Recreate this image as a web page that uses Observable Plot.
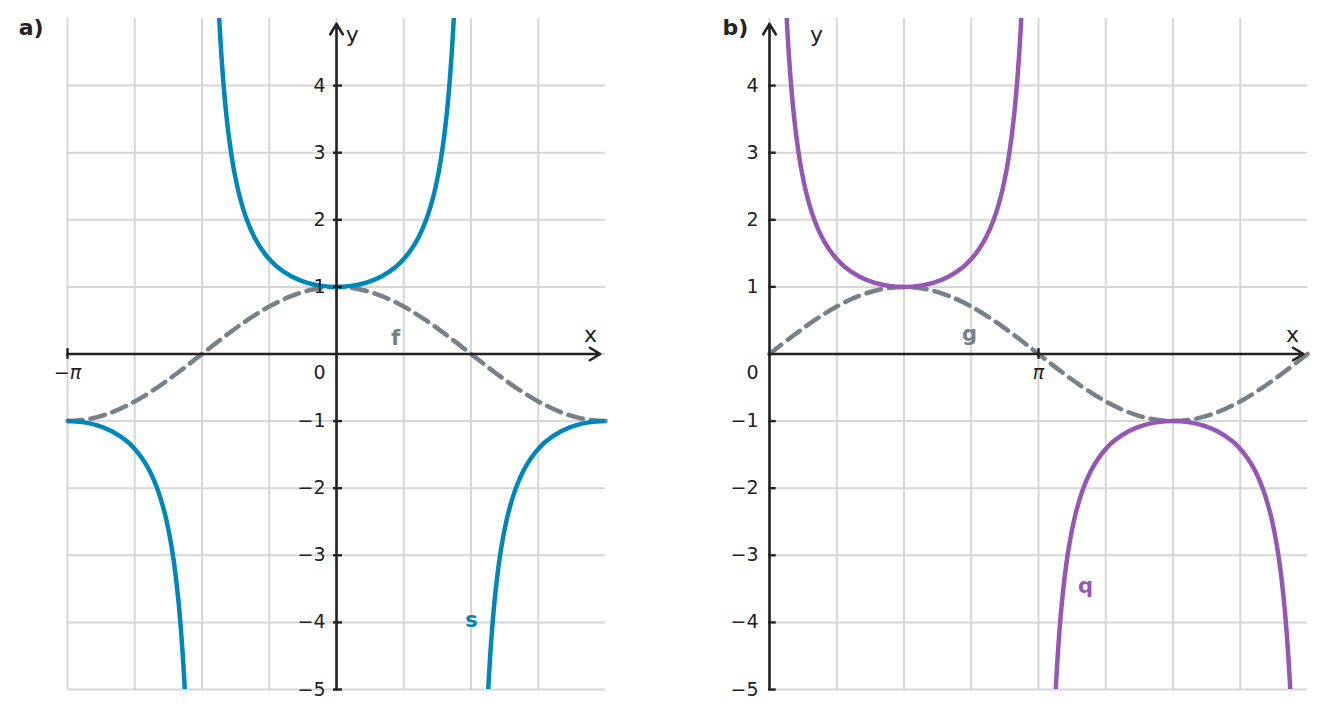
<!DOCTYPE html>
<html><head><meta charset="utf-8">
<script src="https://cdn.jsdelivr.net/npm/d3@7"></script>
<script src="https://cdn.jsdelivr.net/npm/@observablehq/plot@0.6"></script>
<style>
html,body{margin:0;padding:0;background:#fff;}
#wrap{display:flex;width:1325px;height:719px;}
#wrap svg{display:block;}
</style></head><body><div id="wrap"></div>
<script>
// ---------- data (x in degrees) ----------
// Panel a: f(x) = cos x, s(x) = 1/cos x, x in [-180, 180]
const fX = [-180,-165,-150,-135,-120,-105,-90,-75,-60,-45,-30,-15,0,15,30,45,60,75,90,105,120,135,150,165,180];
const fY = [-1,-0.966,-0.866,-0.707,-0.5,-0.259,0,0.259,0.5,0.707,0.866,0.966,1,0.966,0.866,0.707,0.5,0.259,0,-0.259,-0.5,-0.707,-0.866,-0.966,-1];

const sMidX = [-78.46,-78,-77,-76,-75,-74,-72,-70,-68,-65,-60,-55,-50,-45,-40,-30,-20,-10,0,10,20,30,40,45,50,55,60,65,68,70,72,74,75,76,77,78,78.46];
const sMidY = [5,4.810,4.445,4.134,3.864,3.628,3.236,2.924,2.669,2.366,2,1.743,1.556,1.414,1.305,1.155,1.064,1.015,1,1.015,1.064,1.155,1.305,1.414,1.556,1.743,2,2.366,2.669,2.924,3.236,3.628,3.864,4.134,4.445,4.810,5];
const sLeftX = [-180,-170,-160,-150,-140,-135,-130,-125,-120,-115,-112,-110,-108,-106,-105,-104,-103,-102,-101.54];
const sLeftY = [-1,-1.015,-1.064,-1.155,-1.305,-1.414,-1.556,-1.743,-2,-2.366,-2.669,-2.924,-3.236,-3.628,-3.864,-4.134,-4.445,-4.810,-5];
const sRightX = [101.54,102,103,104,105,106,108,110,112,115,120,125,130,135,140,150,160,170,180];
const sRightY = [-5,-4.810,-4.445,-4.134,-3.864,-3.628,-3.236,-2.924,-2.669,-2.366,-2,-1.743,-1.556,-1.414,-1.305,-1.155,-1.064,-1.015,-1];

// Panel b: g(x) = sin x, q(x) = 1/sin x, x in [0, 360]
const gX = [0,15,30,45,60,75,90,105,120,135,150,165,180,195,210,225,240,255,270,285,300,315,330,345,360];
const gY = [0,0.259,0.5,0.707,0.866,0.966,1,0.966,0.866,0.707,0.5,0.259,0,-0.259,-0.5,-0.707,-0.866,-0.966,-1,-0.966,-0.866,-0.707,-0.5,-0.259,0];

const qUpX = [11.54,12,13,14,15,16,18,20,22,25,30,35,40,45,50,60,70,80,90,100,110,120,130,135,140,145,150,155,158,160,162,164,165,166,167,168,168.46];
const qUpY = [5,4.810,4.445,4.134,3.864,3.628,3.236,2.924,2.669,2.366,2,1.743,1.556,1.414,1.305,1.155,1.064,1.015,1,1.015,1.064,1.155,1.305,1.414,1.556,1.743,2,2.366,2.669,2.924,3.236,3.628,3.864,4.134,4.445,4.810,5];
const qLowX = [191.54,192,193,194,195,196,198,200,202,205,210,215,220,225,230,240,250,260,270,280,290,300,310,315,320,325,330,335,338,340,342,344,345,346,347,348,348.46];
const qLowY = [-5,-4.810,-4.445,-4.134,-3.864,-3.628,-3.236,-2.924,-2.669,-2.366,-2,-1.743,-1.556,-1.414,-1.305,-1.155,-1.064,-1.015,-1,-1.015,-1.064,-1.155,-1.305,-1.414,-1.556,-1.743,-2,-2.366,-2.669,-2.924,-3.236,-3.628,-3.864,-4.134,-4.445,-4.810,-5];

// ticks & grid
const yTicks = [-5,-4,-3,-2,-1,1,2,3,4];
const yGrid = [-5,-4,-3,-2,-1,0,1,2,3,4];
const gridXa = [-180,-135,-90,-45,0,45,90,135];
const gridXb = [0,45,90,135,180,225,270,315];
const xTickA = [{x: -180, label: "−π"}];
const xTickB = [{x: 180, label: "π"}];

// ---------- styles ----------
const INK = "#222222";
const GRID = "#d6d6d6";
const GRAY = "#77818a";
const BLUE = "#0087ba";
const PURPLE = "#9656b4";
const FONT = "DejaVu Sans";

const pts = (xs, ys) => xs.map((x, i) => ({x, y: ys[i]}));
const fmt = d => d < 0 ? "−" + Math.abs(d) : String(d);

function panel(o) {
  const solid = o.solid.map(([xs, ys]) =>
    Plot.line(pts(xs, ys), {x: "x", y: "y", stroke: o.color, strokeWidth: 4.5, curve: "catmull-rom", clip: true}));
  return Plot.plot({
    width: o.width, height: 719,
    marginLeft: o.ml, marginRight: o.mr, marginTop: 18, marginBottom: 30,
    x: {domain: o.xDomain, axis: null},
    y: {domain: [-5, 5], axis: null},
    style: {fontFamily: FONT, background: "white", overflow: "visible"},
    marks: [
      Plot.ruleX(o.gridX, {stroke: GRID, strokeWidth: 2}),
      Plot.ruleY(yGrid, {stroke: GRID, strokeWidth: 2}),
      Plot.line(pts(o.dX, o.dY), {x: "x", y: "y", stroke: GRAY, strokeWidth: 4.5, strokeDasharray: "15,8", curve: "catmull-rom"}),
      ...solid,
      // axes
      Plot.arrow([{x1: o.xDomain[0], y1: 0, x2: o.xEnd, y2: 0}], {x1: "x1", y1: "y1", x2: "x2", y2: "y2", stroke: INK, strokeWidth: 2.6, headLength: 7, headAngle: 62}),
      Plot.arrow([{x1: 0, y1: -5, x2: 0, y2: 4.92}], {x1: "x1", y1: "y1", x2: "x2", y2: "y2", stroke: INK, strokeWidth: 2.6, headLength: 7, headAngle: 62}),
      Plot.ruleY(yTicks, {y: d => d, x1: o.tk0, x2: o.tk1, stroke: INK, strokeWidth: 2.4}),
      Plot.ruleX(o.xTick, {x: "x", y1: -0.08, y2: 0.08, stroke: INK, strokeWidth: 2.4}),
      Plot.text(yTicks, {x: 0, y: d => d, text: fmt, textAnchor: "end", dx: -11, fontSize: 19, fill: INK}),
      Plot.text([0], {x: 0, y: 0, text: () => "0", textAnchor: "end", dx: -11, dy: 19, fontSize: 19, fill: INK}),
      Plot.text(o.xTick, {x: "x", y: 0, text: "label", dy: 19, fontSize: 19, fill: INK, fontStyle: "italic"}),
      // labels
      Plot.text(["x"], {x: o.xLab[0], y: o.xLab[1], text: d => d, fontSize: 22, fill: INK}),
      Plot.text(["y"], {x: o.yLab[0], y: o.yLab[1], text: d => d, fontSize: 22, fill: INK}),
      Plot.text([o.dName], {x: o.dLab[0], y: o.dLab[1], text: d => d, fontSize: 21, fontWeight: "bold", fill: GRAY}),
      Plot.text([o.sName], {x: o.sLab[0], y: o.sLab[1], text: d => d, fontSize: 21, fontWeight: "bold", fill: o.color}),
      Plot.text([o.title], {x: o.tLab[0], y: o.tLab[1], text: d => d, textAnchor: "start", fontSize: 22, fontWeight: "bold", fill: INK})
    ]
  });
}

const wrap = document.getElementById("wrap");
wrap.append(panel({
  width: 662, ml: 67, mr: 57, xDomain: [-180, 180], xEnd: 176.5,
  gridX: gridXa, xTick: xTickA, tk0: -2, tk1: 4,
  dX: fX, dY: fY, solid: [[sMidX, sMidY], [sLeftX, sLeftY], [sRightX, sRightY]], color: BLUE,
  xLab: [169.9, 0.29], yLab: [10.5, 4.76], dName: "f", dLab: [39.5, 0.23], sName: "s", sLab: [90.3, -3.97],
  title: "a)", tLab: [-212.7, 4.86]
}));
wrap.append(panel({
  width: 663, ml: 107, mr: 18, xDomain: [0, 360], xEnd: 357.3,
  gridX: gridXb, xTick: xTickB, tk0: -0.5, tk1: 4.5,
  dX: gX, dY: gY, solid: [[qUpX, qUpY], [qLowX, qLowY]], color: PURPLE,
  xLab: [350, 0.29], yLab: [31.4, 4.76], dName: "g", dLab: [133.8, 0.30], sName: "q", sLab: [211.4, -3.46],
  title: "b)", tLab: [-31.4, 4.86]
}));
</script></body></html>
